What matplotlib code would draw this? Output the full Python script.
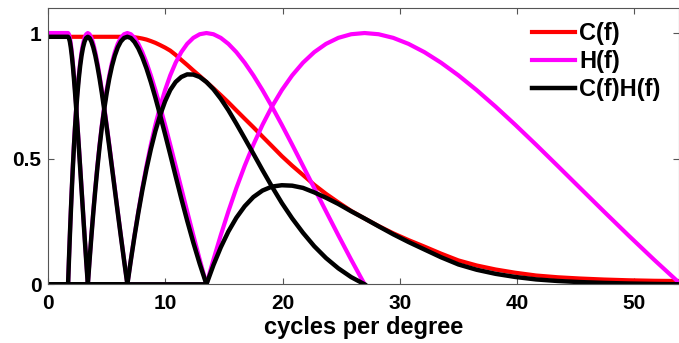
import numpy as np
import matplotlib
matplotlib.use("Agg")
import matplotlib.pyplot as plt

# frequency samples (cycles per degree), 1/16 octave steps from 1.69 up to 54
freq = [0,
        1.688, 1.762, 1.84, 1.922, 2.007, 2.096, 2.188, 2.285,
        2.386, 2.492, 2.602, 2.718, 2.838, 2.964, 3.095, 3.232,
        3.375, 3.524, 3.68, 3.843, 4.014, 4.191, 4.377, 4.571,
        4.773, 4.984, 5.205, 5.435, 5.676, 5.927, 6.19, 6.464,
        6.75, 7.049, 7.361, 7.687, 8.027, 8.383, 8.754, 9.141,
        9.546, 9.969, 10.41, 10.871, 11.352, 11.855, 12.38, 12.928,
        13.5, 14.098, 14.722, 15.374, 16.054, 16.765, 17.507, 18.283,
        19.092, 19.937, 20.82, 21.742, 22.704, 23.709, 24.759, 25.855,
        27.0, 28.195, 29.444, 30.747, 32.109, 33.53, 35.015, 36.565,
        38.184, 39.874, 41.64, 43.483, 45.409, 47.42, 49.519, 51.711,
        54.0]

# C(f), same samples as freq
contrast = [0.985,
            0.985, 0.985, 0.985, 0.985, 0.985, 0.985, 0.985, 0.985,
            0.985, 0.985, 0.985, 0.985, 0.985, 0.985, 0.985, 0.985,
            0.985, 0.985, 0.985, 0.985, 0.985, 0.985, 0.985, 0.985,
            0.985, 0.985, 0.985, 0.985, 0.985, 0.985, 0.985, 0.985,
            0.985, 0.985, 0.983, 0.981, 0.978, 0.974, 0.968, 0.961,
            0.952, 0.942, 0.93, 0.913, 0.893, 0.873, 0.851, 0.829,
            0.805, 0.78, 0.753, 0.724, 0.692, 0.659, 0.625, 0.588,
            0.55, 0.51, 0.472, 0.435, 0.396, 0.36, 0.326, 0.292,
            0.262, 0.232, 0.203, 0.176, 0.15, 0.122, 0.095, 0.075,
            0.059, 0.046, 0.035, 0.028, 0.023, 0.019, 0.016, 0.014,
            0.013]

# H(f): lowpass part (from f=0 to 3.375) ...
h_low = [1, 1, 0.9952, 0.9808, 0.9569, 0.9239, 0.8819, 0.8315, 0.773,
         0.7071, 0.6344, 0.5556, 0.4714, 0.3827, 0.2903, 0.1951, 0.098, 0]
# ... and the octave bands, all with the same profile over two octaves
band_gain = [0, 0.098, 0.1951, 0.2903, 0.3827, 0.4714, 0.5556, 0.6344, 0.7071,
             0.773, 0.8315, 0.8819, 0.9239, 0.9569, 0.9808, 0.9952, 1,
             0.9952, 0.9808, 0.9569, 0.9239, 0.8819, 0.8315, 0.773, 0.7071,
             0.6344, 0.5556, 0.4714, 0.3827, 0.2903, 0.1951, 0.098, 0]
# index into freq where each band starts (1.69, 3.375, 6.75, 13.5 cpd)
band_start = [1, 17, 33, 49]

labels = ["C(f)", "H(f)", "C(f)H(f)"]

plt.rcParams["font.family"] = ["Liberation Sans", "DejaVu Sans"]
plt.rcParams["font.weight"] = "bold"
plt.rcParams["font.size"] = 15

fig = plt.figure(figsize=(6.79, 3.43), dpi=100)
ax = fig.add_axes([48.3 / 679, 58.7 / 343, 630.2 / 679, 276.4 / 343])

f = np.array(freq)
c = np.array(contrast)
g = np.array(band_gain)

curves = [(f[:len(h_low)], np.array(h_low), c[:len(h_low)])]
for s in band_start:
    e = s + len(band_gain)
    # the band is zero from f=0 up to its lower edge
    curves.append((np.r_[0, f[s:e]], np.r_[0, g], np.r_[c[0], c[s:e]]))

l_c, = ax.plot(f, c, color="#ff0000", lw=3.0)
for x, h, cc in curves:
    l_h, = ax.plot(x, h, color="#ff00ff", lw=3.0)
for x, h, cc in curves:
    l_ch, = ax.plot(x, cc * h, color="black", lw=3.2)

ax.set_xlim(0, 53.8)
ax.set_ylim(0, 1.1)
ax.set_xticks([0, 10, 20, 30, 40, 50])
ax.set_yticks([0, 0.5, 1])
ax.set_yticklabels(["0", "0.5", "1"])
ax.tick_params(direction="in", top=True, right=True, length=4,
               width=0.8, color="#555555", labelsize=15)
ax.tick_params(axis="x", pad=7)
ax.tick_params(axis="y", pad=5)
for sp in ax.spines.values():
    sp.set_color("#555555")
    sp.set_linewidth(0.8)

ax.set_xlabel("cycles per degree", fontsize=17, fontweight="bold", labelpad=2)

ax.legend([l_c, l_h, l_ch], labels, loc="upper left", frameon=False,
          bbox_to_anchor=(532 / 679, 1 - 22 / 343), bbox_transform=fig.transFigure,
          borderpad=0, borderaxespad=0, handlelength=1.82, handletextpad=0.17,
          labelspacing=0.22, prop={"weight": "bold", "size": 17})

fig.savefig("out.png", dpi=100)
